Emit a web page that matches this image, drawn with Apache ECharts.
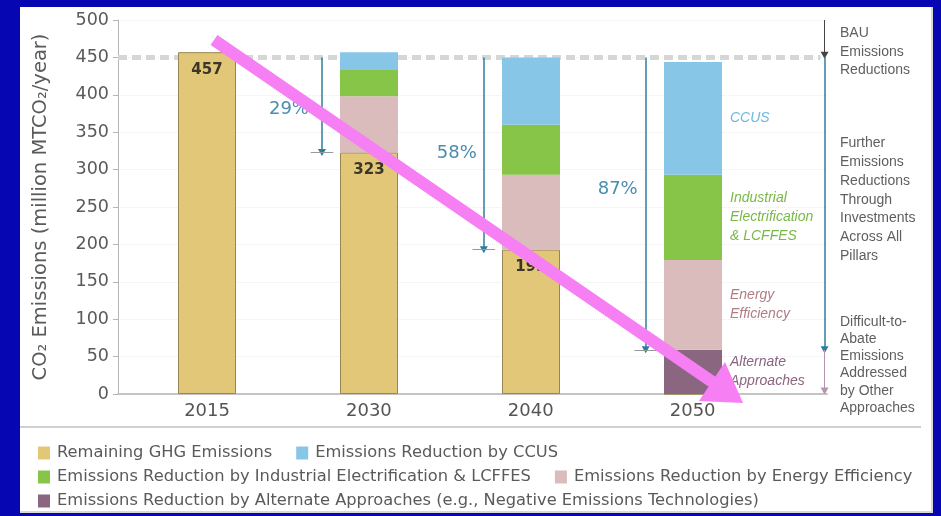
<!DOCTYPE html>
<html>
<head>
    <meta charset="UTF-8">
    <script src="https://cdn.jsdelivr.net/npm/echarts@6/dist/echarts.min.js"></script>
    <style>
        html, body { margin: 0; padding: 0; background: #0606b2; }
        #panel { position: absolute; left: 20px; top: 7px; width: 911px; height: 504px; background: #fff; border-right: 2px solid #d8d8d8; border-bottom: 2px solid #d8d8d8; }
        #main { position: absolute; left: 0; top: 0; width: 941px; height: 516px; }
    </style>
</head>
<body>
    <div id="panel"></div>
    <div id="main"></div>
    <script>
        // 数据
        var years = ['2015', '2030', '2040', '2050'];
        var remaining = [457, 323, 193, 0];
        var alternate = [0, 0, 0, 59];
        var efficiency = [0, 75, 100, 120];
        var electrification = [0, 35, 67, 114];
        var ccus = [0, 24, 90, 151];
        var bau = 450;
        var notes2050 = ['Alternate\nApproaches', 'Energy\nEfficiency', 'Industrial\nElectrification\n& LCFFES', 'CCUS'];
        var names = [
            'Remaining GHG Emissions',
            'Emissions Reduction by CCUS',
            'Emissions Reduction by Industrial Electrification & LCFFES',
            'Emissions Reduction by Energy Efficiency',
            'Emissions Reduction by Alternate Approaches (e.g., Negative Emissions Technologies)'
        ];

        var font = 'DejaVu Sans, sans-serif';
        var font2 = 'Liberation Sans, Arial, sans-serif';
        var teal = '#2f7d9e';
        var myChart = echarts.init(document.getElementById('main'));

        // 2050 的柱子右侧标注
        var withNote = function (arr, note, color) {
            return arr.map(function (v, i) {
                if (i === 3) {
                    return {
                        value: v,
                        label: {
                            show: true, position: 'right', distance: 8, formatter: note,
                            color: color, fontStyle: 'italic', fontSize: 14, lineHeight: 19,
                            fontFamily: font2, align: 'left'
                        }
                    };
                }
                return v;
            });
        };

        // 百分比 = 相对 2015 的减排
        var targets = [remaining[1], remaining[2], alternate[3]];
        var pct = targets.map(function (t) {
            return Math.round((remaining[0] - t) / remaining[0] * 100) + '%';
        });

        // 注释层用的是 value 轴 (x: 0..3 对应年份)
        var arrowLines = [];
        targets.forEach(function (t, k) {
            var x = k + 0.71;
            arrowLines.push([
                { coord: [x, bau], symbol: 'none', lineStyle: { color: teal, width: 1.5, type: 'solid' } },
                { coord: [x, t], symbol: 'triangle', symbolSize: [8, 7], symbolRotate: 180 }
            ]);
            arrowLines.push([
                { coord: [x - 0.07, t], symbol: 'none', lineStyle: { color: '#999', width: 1, type: 'solid' } },
                { coord: [x + 0.07, t], symbol: 'none' }
            ]);
        });
        // 右侧的三段箭头
        arrowLines.push([
            { coord: [3.815, 500], symbol: 'none', lineStyle: { color: '#444', width: 1, type: 'solid' } },
            { coord: [3.815, bau + 3], symbol: 'triangle', symbolSize: [8, 7], symbolRotate: 180 }
        ]);
        arrowLines.push([
            { coord: [3.815, bau], symbol: 'none', lineStyle: { color: teal, width: 1.5, type: 'solid' } },
            { coord: [3.815, alternate[3]], symbol: 'triangle', symbolSize: [8, 7], symbolRotate: 180 }
        ]);
        arrowLines.push([
            { coord: [3.815, alternate[3]], symbol: 'none', lineStyle: { color: '#b793b2', width: 1, type: 'solid' } },
            { coord: [3.815, 4], symbol: 'triangle', symbolSize: [8, 7], symbolRotate: 180 }
        ]);

        var pctPoints = [
            { coord: [0.506, 380], name: pct[0] },
            { coord: [1.543, 322], name: pct[1] },
            { coord: [2.537, 273], name: pct[2] }
        ];

        var legendText = { color: '#5a5a5a', fontSize: 16.3, fontFamily: font, padding: [0, 0, 0, 2] };

        var sideText = function (top, text, lh) {
            return {
                type: 'text', left: 840, top: top, z: 10,
                style: { text: text, fill: '#5f5f5f', font: '14px ' + font2, lineHeight: lh }
            };
        };

        var barBase = { type: 'bar', stack: 'e', barWidth: 58, xAxisIndex: 1, yAxisIndex: 1 };
        var mk = function (o) { return Object.assign({}, barBase, o); };

        option = {
            animation: false,
            grid: [
                { left: 118, right: 114, top: 20, bottom: 122 },
                { left: 126, right: 167, top: 20, bottom: 122 }
            ],
            legend: [
                { data: [names[0], names[1]], left: 33, top: 440 },
                { data: [names[2], names[3]], left: 33, top: 464 },
                { data: [names[4]], left: 33, top: 488 }
            ].map(function (l) {
                l.itemWidth = 12; l.itemHeight = 13; l.itemGap = 24; l.icon = 'rect';
                l.itemStyle = { borderWidth: 0 };
                l.textStyle = legendText;
                return l;
            }),
            xAxis: [
                {
                    type: 'value', gridIndex: 0,
                    min: -0.55,
                    max: 3.83,
                    axisLine: { show: true, onZero: false, lineStyle: { color: '#c4c4c4', width: 2 } },
                    axisTick: { show: false },
                    splitLine: { show: false },
                    axisLabel: {
                        customValues: [0, 1, 2, 3],
                        formatter: function (v) { return years[Math.round(v)]; },
                        color: '#555', fontSize: 18, fontFamily: font, margin: 8
                    }
                },
                { type: 'category', gridIndex: 1, data: years, show: false }
            ],
            yAxis: [
                {
                    type: 'value', gridIndex: 0,
                    min: 0,
                    max: 500,
                    interval: 50,
                    name: 'CO₂ Emissions (million MTCO₂/year)',
                    nameLocation: 'middle',
                    nameGap: 67,
                    nameTextStyle: { color: '#5a5a5a', fontSize: 19.5, fontFamily: font },
                    axisLine: { show: true, onZero: false, lineStyle: { color: '#b5b5b5' } },
                    axisTick: { show: true, length: 5, lineStyle: { color: '#b5b5b5' } },
                    axisLabel: { color: '#5a5a5a', fontSize: 17.5, fontFamily: font, margin: 9 },
                    splitLine: { lineStyle: { color: '#ececec', type: 'dotted' } }
                },
                { type: 'value', gridIndex: 1, min: 0, max: 500, show: false, splitLine: { show: false } }
            ],
            series: [
                {
                    type: 'scatter', xAxisIndex: 0, yAxisIndex: 0, data: [],
                    markLine: {
                        silent: true, z: 1, label: { show: false },
                        data: [[
                            { coord: [-0.55, bau], symbol: 'none', lineStyle: { color: '#d6d6d6', width: 5, type: [9, 5] } },
                            { coord: [3.79, bau], symbol: 'none' }
                        ]]
                    }
                },
                mk({
                    name: names[0],
                    data: remaining,
                    itemStyle: { color: '#e2c778', borderColor: '#9a8652', borderWidth: 1 },
                    label: {
                        show: true, position: 'insideTop', distance: 10,
                        formatter: function (p) { return p.value > 0 ? p.value : ''; },
                        color: '#3b3626', fontSize: 15, fontWeight: 'bold', fontFamily: font
                    }
                }),
                mk({ name: names[4], data: withNote(alternate, notes2050[0], '#8a6480'), itemStyle: { color: '#8b6681' } }),
                mk({ name: names[3], data: withNote(efficiency, notes2050[1], '#b07c84'), itemStyle: { color: '#dbbcbd' } }),
                mk({ name: names[2], data: withNote(electrification, notes2050[2], '#79b947'), itemStyle: { color: '#86c548' } }),
                mk({ name: names[1], data: withNote(ccus, notes2050[3], '#6db9e2'), itemStyle: { color: '#88c6e8' } }),
                {
                    type: 'scatter', xAxisIndex: 0, yAxisIndex: 0, data: [],
                    markLine: {
                        silent: true, z: 5, label: { show: false },
                        data: arrowLines
                    },
                    markPoint: {
                        silent: true, symbol: 'rect', symbolSize: 1,
                        itemStyle: { color: 'rgba(0,0,0,0)' },
                        label: { show: true, position: 'inside', formatter: '{b}', color: '#4a8db0', fontSize: 18, fontFamily: font },
                        data: pctPoints
                    }
                }
            ],
            graphic: [
                { type: 'line', shape: { x1: 20, y1: 427, x2: 921, y2: 427 }, style: { stroke: '#d0d0d0', lineWidth: 2 } },
                sideText(24, 'BAU\nEmissions\nReductions', 18.5),
                sideText(134, 'Further\nEmissions\nReductions\nThrough\nInvestments\nAcross All\nPillars', 18.8),
                sideText(313, 'Difficult-to-\nAbate\nEmissions\nAddressed\nby Other\nApproaches', 17.3),
                // 粉色箭头
                { type: 'line', z: 20, shape: { x1: 214, y1: 40, x2: 714, y2: 383 }, style: { stroke: '#f77ff4', lineWidth: 12 } },
                { type: 'polygon', z: 20, shape: { points: [[743, 403], [699, 401], [725, 362]] }, style: { fill: '#f77ff4' } }
            ]
        };

        myChart.setOption(option);
    </script>
</body>
</html>
